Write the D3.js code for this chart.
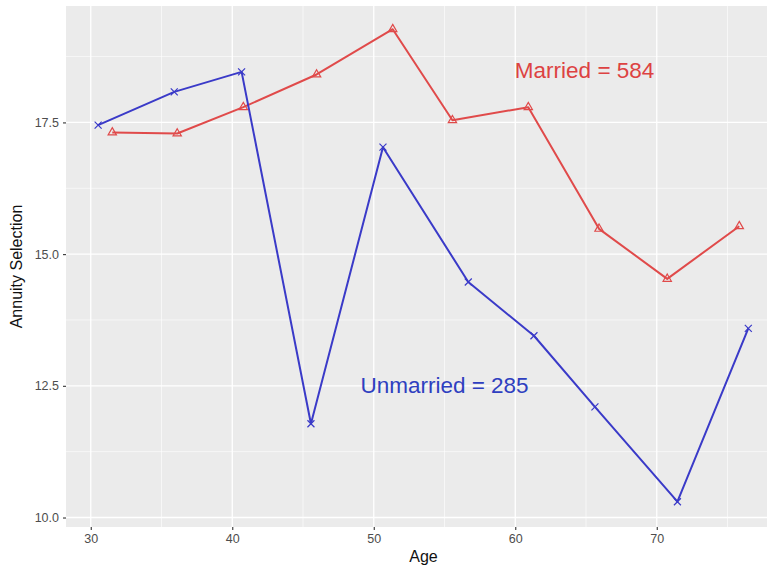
<!DOCTYPE html>
<html>
<head>
<meta charset="utf-8">
<script src="https://cdn.jsdelivr.net/npm/d3@7"></script>
<style>
  html, body { margin: 0; padding: 0; background: #ffffff; }
  svg { display: block; }
</style>
</head>
<body>
<svg id="chart" width="767" height="570"></svg>
<script>
// ---- data ----
const marriedAge   = [31.52, 36.11, 40.78, 45.96, 51.34, 55.56, 60.92, 65.92, 70.74, 75.83];
const marriedValue = [17.31, 17.29, 17.79, 18.41, 19.27, 17.54, 17.79, 15.48, 14.53, 15.53];
const unmarriedAge   = [30.52, 35.90, 40.66, 45.56, 50.65, 56.68, 61.32, 65.63, 71.46, 76.47];
const unmarriedValue = [17.45, 18.08, 18.46, 11.78, 17.03, 14.47, 13.45, 12.10, 10.30, 13.59];
const xTicks = [30, 40, 50, 60, 70];
const xMinor = [35, 45, 55, 65, 75];
const yTicks = [10, 12.5, 15, 17.5];
const yMinor = [11.25, 13.75, 16.25, 18.75];
const labels = [
  { text: "Married = 584", x: 64.9, y: 18.48, series: "married" },
  { text: "Unmarried = 285", x: 55.0, y: 12.5, series: "unmarried" }
];

// ---- layout ----
const svg = d3.select("#chart");
const panel = { left: 66, right: 781, top: 6, bottom: 527 };
const red = "#E04A4A", blue = "#3A3AC8";
const colors = { married: "#DD4242", unmarried: "#2F3FC0" };

const x = d3.scaleLinear().domain([28.25, 78.78]).range([panel.left, panel.right]);
const y = d3.scaleLinear().domain([9.82, 19.71]).range([panel.bottom, panel.top]);

svg.append("rect").attr("width", 767).attr("height", 570).attr("fill", "#ffffff");
svg.append("rect")
  .attr("x", panel.left).attr("y", panel.top)
  .attr("width", panel.right - panel.left).attr("height", panel.bottom - panel.top)
  .attr("fill", "#EBEBEB");

const grid = svg.append("g");
grid.selectAll(".ymin").data(yMinor).join("line")
  .attr("x1", panel.left).attr("x2", panel.right)
  .attr("y1", d => y(d)).attr("y2", d => y(d))
  .attr("stroke", "#ffffff").attr("stroke-width", 0.6);
grid.selectAll(".xmin").data(xMinor).join("line")
  .attr("y1", panel.top).attr("y2", panel.bottom)
  .attr("x1", d => x(d)).attr("x2", d => x(d))
  .attr("stroke", "#ffffff").attr("stroke-width", 0.6);
grid.selectAll(".ymaj").data(yTicks).join("line")
  .attr("x1", panel.left).attr("x2", panel.right)
  .attr("y1", d => y(d)).attr("y2", d => y(d))
  .attr("stroke", "#ffffff").attr("stroke-width", 1.3);
grid.selectAll(".xmaj").data(xTicks).join("line")
  .attr("y1", panel.top).attr("y2", panel.bottom)
  .attr("x1", d => x(d)).attr("x2", d => x(d))
  .attr("stroke", "#ffffff").attr("stroke-width", 1.3);

// axes
const xAxis = svg.append("g").attr("transform", `translate(0,${panel.bottom})`)
  .call(d3.axisBottom(x).tickValues(xTicks).tickSize(3).tickPadding(4).tickFormat(d3.format("d")));
const yAxis = svg.append("g").attr("transform", `translate(${panel.left},0)`)
  .call(d3.axisLeft(y).tickValues(yTicks).tickSize(3).tickPadding(4).tickFormat(d3.format(".1f")));
[xAxis, yAxis].forEach(a => {
  a.select(".domain").remove();
  a.selectAll(".tick line").attr("stroke", "#333333").attr("stroke-width", 1.1);
  a.selectAll(".tick text").attr("fill", "#4D4D4D")
    .style("font-family", "'Liberation Sans', Arial, sans-serif").style("font-size", "12.5px");
});

// axis titles
svg.append("text").attr("x", (panel.left + panel.right) / 2).attr("y", 562)
  .attr("text-anchor", "middle").attr("fill", "#111")
  .style("font-family", "'Liberation Sans', Arial, sans-serif").style("font-size", "16px")
  .text("Age");
svg.append("text")
  .attr("transform", `translate(22,${(panel.top + panel.bottom) / 2}) rotate(-90)`)
  .attr("text-anchor", "middle").attr("fill", "#111")
  .style("font-family", "'Liberation Sans', Arial, sans-serif").style("font-size", "16px")
  .text("Annuity Selection");

// lines
const line = d3.line().x(d => x(d[0])).y(d => y(d[1]));
const married = marriedAge.map((a, i) => [a, marriedValue[i]]);
const unmarried = unmarriedAge.map((a, i) => [a, unmarriedValue[i]]);

svg.append("path").datum(married).attr("d", line)
  .attr("fill", "none").attr("stroke", red).attr("stroke-width", 2).attr("stroke-linejoin", "round");
svg.append("path").datum(unmarried).attr("d", line)
  .attr("fill", "none").attr("stroke", blue).attr("stroke-width", 2).attr("stroke-linejoin", "round");

// markers
const tri = d3.symbol().type(d3.symbolTriangle).size(30);
svg.append("g").selectAll("path").data(married).join("path")
  .attr("transform", d => `translate(${x(d[0])},${y(d[1])})`)
  .attr("d", tri).attr("fill", "none").attr("stroke", red).attr("stroke-width", 1.2);
const s = 3.5;
svg.append("g").selectAll("path").data(unmarried).join("path")
  .attr("transform", d => `translate(${x(d[0])},${y(d[1])})`)
  .attr("d", `M${-s},${-s}L${s},${s}M${-s},${s}L${s},${-s}`)
  .attr("fill", "none").attr("stroke", blue).attr("stroke-width", 1.2);

// annotations
svg.append("g").selectAll("text").data(labels).join("text")
  .attr("x", d => x(d.x)).attr("y", d => y(d.y))
  .attr("text-anchor", "middle").attr("dominant-baseline", "central")
  .attr("fill", d => colors[d.series])
  .style("font-family", "'Liberation Sans', Arial, sans-serif").style("font-size", "22.5px")
  .text(d => d.text);
</script>
</body>
</html>
